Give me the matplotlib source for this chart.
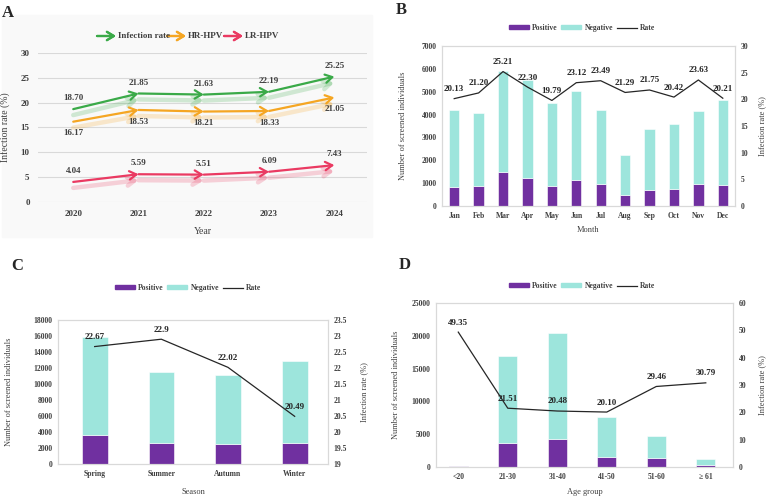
import numpy as np
import matplotlib.pyplot as plt
from matplotlib.patches import Patch, Rectangle
from matplotlib.lines import Line2D

plt.rcParams['font.family'] = ['Liberation Serif', 'DejaVu Serif']
plt.rcParams['font.weight'] = 'bold'
plt.rcParams['font.size'] = 6

# A: yearly infection rates (%)
years = [2020, 2021, 2022, 2023, 2024]
rate_total = [18.70, 21.85, 21.63, 22.19, 25.25]
rate_hr = [16.17, 18.53, 18.21, 18.33, 21.05]
rate_lr = [4.04, 5.59, 5.51, 6.09, 7.43]

# B: by month
months = ['Jan', 'Feb', 'Mar', 'Apr', 'May', 'Jun', 'Jul', 'Aug', 'Sep', 'Oct', 'Nov', 'Dec']
month_total = [4200, 4050, 5900, 5500, 4520, 5020, 4220, 2250, 3350, 3580, 4150, 4650]
month_pos = [850, 870, 1480, 1230, 890, 1150, 980, 470, 720, 730, 960, 930]
month_rate = [20.13, 21.20, 25.21, 22.30, 19.79, 23.12, 23.49, 21.29, 21.75, 20.42, 23.63, 20.21]

# C: by season
seasons = ['Spring', 'Summer', 'Autumn', 'Winter']
season_total = [15900, 11500, 11100, 12900]
season_pos = [3600, 2650, 2450, 2650]
season_rate = [22.67, 22.9, 22.02, 20.49]

# D: by age group
ages = ['<20', '21-30', '31-40', '41-50', '51-60', '\u2265 61']
age_total = [160, 16900, 20500, 7600, 4800, 1150]
age_pos = [80, 3650, 4200, 1500, 1400, 350]
age_rate = [49.35, 21.51, 20.48, 20.10, 29.46, 30.79]

PURPLE = '#7030a0'
TEAL = '#9de5dc'
TXT = '#404040'
W, H = 767, 497


def px_rect(left, top, right, bottom):
    return [left / W, 1 - bottom / H, (right - left) / W, (bottom - top) / H]


fig = plt.figure(figsize=(W / 100, H / 100), dpi=100)
fig.patches.append(Rectangle((2 / W, 1 - 237 / H), 370 / W, 222 / H,
                             transform=fig.transFigure, color='#f9f9f9', zorder=-5))

# ---------------- A ----------------
axA = fig.add_axes(px_rect(38, 53, 367, 202))
axA.set_facecolor('none')
series = [(rate_total, '#3aaa48', 7.9, 'bottom'),
          (rate_hr, '#f5a623', -5.5, 'top'),
          (rate_lr, '#ea3a62', 7.9, 'bottom')]
for vals, col, off, va in series:
    for sh, lw, alpha in [(-1.2, 3.2, 0.22), (0, 1.6, 1.0)]:
        for i in range(len(years) - 1):
            axA.annotate('', xy=(years[i + 1], vals[i + 1] + sh), xytext=(years[i], vals[i] + sh),
                         arrowprops=dict(arrowstyle='->,head_length=0.5,head_width=0.3',
                                         color=col, lw=lw, alpha=alpha,
                                         shrinkA=0, shrinkB=0, mutation_scale=10))
    for x, v in zip(years, vals):
        axA.annotate(f'{v:.2f}', (x, v), xytext=(0, off), textcoords='offset points',
                     ha='center', va=va if off < 0 else 'center', fontsize=6.5, color=TXT)
axA.set_xlim(2019.46, 2024.5)
axA.set_ylim(0, 30)
axA.set_yticks(range(0, 31, 5))
axA.set_xticks(years)
axA.grid(axis='y', color='#d9d9d9', lw=0.8)
axA.set_axisbelow(True)
for s in axA.spines.values():
    s.set_visible(False)
axA.tick_params(length=0, labelsize=6.5, colors=TXT, pad=6)
axA.set_ylabel('Infection rate (%)', fontsize=7, color=TXT)
axA.yaxis.set_label_coords(-0.085, 0.5)
axA.set_xlabel('Year', fontsize=7, color=TXT)
axA.xaxis.set_label_coords(0.5, -0.168)

# legend with arrows
leg_items = [('Infection rate', '#3aaa48', 97), ('HR-HPV', '#f5a623', 167), ('LR-HPV', '#ea3a62', 224)]
for name, col, x0 in leg_items:
    fig.add_artist(plt.annotate('', xy=((x0 + 19) / W, 1 - 36 / H), xytext=(x0 / W, 1 - 36 / H),
                                xycoords='figure fraction', textcoords='figure fraction',
                                arrowprops=dict(arrowstyle='->,head_length=0.5,head_width=0.3',
                                                color=col, lw=1.6, shrinkA=0, shrinkB=0,
                                                mutation_scale=10)))
    fig.text((x0 + 21) / W, 1 - 36 / H, name, fontsize=6.5, color=TXT, va='center', ha='left')


# ---------------- combo panels ----------------
def combo(rect, cats, pos, total, rate, fmt, lticks, rticks, xlabel, bw, xlim,
          ylx, yrx, xly, leg_xy):
    ax = fig.add_axes(rect)
    x = np.arange(len(cats))
    pos = np.array(pos)
    neg = np.array(total) - pos
    ax.bar(x, pos, bw, color=PURPLE, edgecolor='white', linewidth=0.4, zorder=2)
    ax.bar(x, neg, bw, bottom=pos, color=TEAL, edgecolor='white', linewidth=0.4, zorder=2)
    ax.set_xlim(*xlim)
    ax.set_ylim(lticks[0], lticks[-1])
    ax.set_yticks(lticks)
    ax.set_xticks(x)
    ax.set_xticklabels(cats)
    ax2 = ax.twinx()
    ax2.plot(x, rate, color='#262626', lw=0.9, zorder=3)
    for xi, r in zip(x, rate):
        ax2.annotate(fmt(r), (xi, r), xytext=(0, 4), textcoords='offset points',
                     ha='center', va='bottom', fontsize=6.5, color='#262626')
    ax2.set_ylim(rticks[0], rticks[-1])
    ax2.set_yticks(rticks)
    ax2.set_yticklabels([f'{t:g}' for t in rticks])
    for a in (ax, ax2):
        for s in a.spines.values():
            s.set_color('#d9d9d9')
            s.set_linewidth(0.8)
        a.tick_params(length=0, labelsize=5.5, colors=TXT, pad=4)
    ax.set_ylabel('Number of screened individuals', fontsize=6, color=TXT)
    ax.yaxis.set_label_coords(ylx, 0.5)
    ax2.set_ylabel('Infection rate (%)', fontsize=6, color=TXT)
    ax2.yaxis.set_label_coords(yrx, 0.5)
    ax.set_xlabel(xlabel, fontsize=6, color=TXT)
    ax.xaxis.set_label_coords(0.5, xly)
    handles = [Patch(color=PURPLE, label='Positive'), Patch(color=TEAL, label='Negative'),
               Line2D([], [], color='#262626', lw=0.9, label='Rate')]
    fig.legend(handles=handles, loc='center', bbox_to_anchor=(leg_xy[0] / W, 1 - leg_xy[1] / H),
               ncol=3, frameon=False, fontsize=5.5, handlelength=2.6, handleheight=0.5,
               columnspacing=0.5, handletextpad=0.4, labelcolor=TXT)
    return ax


combo(px_rect(442, 46, 735, 206), months, month_pos, month_total, month_rate,
      lambda v: f'{v:.2f}', list(range(0, 7001, 1000)), list(range(0, 31, 5)),
      'Month', 0.42, (-0.5, 11.5), -0.119, 1.078, -0.125, (582, 28))

combo(px_rect(58, 320, 328, 464), seasons, season_pos, season_total, season_rate,
      lambda v: f'{v:g}', list(range(0, 18001, 2000)), list(np.arange(19, 23.51, 0.5)),
      'Season', 0.385, (-0.55, 3.5), -0.167, 1.118, -0.165, (188, 288))

combo(px_rect(436, 303, 733, 467), ages, age_pos, age_total, age_rate,
      lambda v: f'{v:.2f}', list(range(0, 25001, 5000)), list(range(0, 61, 10)),
      'Age group', 0.39, (-0.45, 5.55), -0.12, 1.085, -0.128, (582, 286))

for letter, x, y in [('A', 8, 13), ('B', 401, 10), ('C', 17, 266), ('D', 405, 265)]:
    fig.text(x / W, 1 - y / H, letter, fontsize=12, color='#262626', ha='center', va='center')

fig.savefig('out.png', dpi=100)
